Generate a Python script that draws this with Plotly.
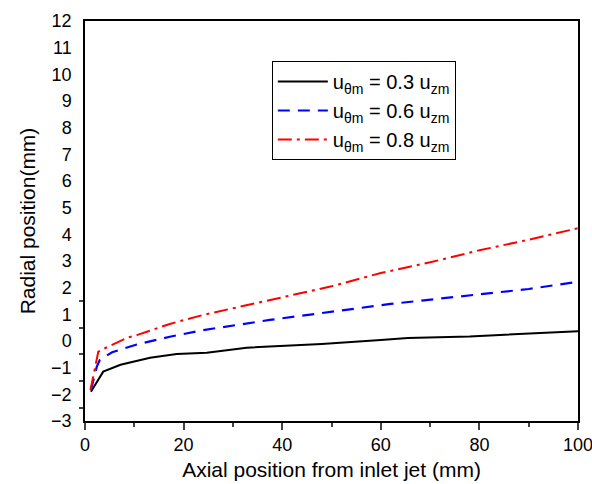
import plotly.graph_objects as go

# Data
x_03 = [1.2, 3.7, 7.2, 9.1, 13.2, 18.6, 24.7, 32.8, 48, 60, 65.5, 78, 100]
y_03 = [-1.90, -1.15, -0.89, -0.80, -0.63, -0.49, -0.44, -0.25, -0.11, 0.04, 0.11, 0.17, 0.37]

x_06 = [1.2, 2.4, 3.0, 5.5, 8.1, 10.5, 17.2, 24, 37.5, 50, 62, 80, 90, 100]
y_06 = [-1.84, -0.96, -0.71, -0.42, -0.27, -0.13, 0.16, 0.41, 0.79, 1.10, 1.39, 1.75, 1.95, 2.22]

x_08 = [1.1, 2.7, 3.7, 6.4, 8.8, 10.5, 17.2, 24, 37.5, 50, 60, 70, 80, 90, 100]
y_08 = [-1.84, -0.40, -0.30, -0.06, 0.14, 0.22, 0.64, 0.98, 1.54, 2.05, 2.55, 2.95, 3.40, 3.80, 4.23]

names = ["u<sub>θm</sub> = 0.3 u<sub>zm</sub>",
         "u<sub>θm</sub> = 0.6 u<sub>zm</sub>",
         "u<sub>θm</sub> = 0.8 u<sub>zm</sub>"]

y_ticks = list(range(-3, 13))
y_minor = [-2.5, -1.5, -0.5, 0.5, 1.5]
x_ticks = [0, 20, 40, 60, 80, 100]

fig = go.Figure()
fig.add_trace(go.Scatter(x=x_03, y=y_03, mode="lines", name=names[0],
                         line=dict(color="black", width=2)))
fig.add_trace(go.Scatter(x=x_06, y=y_06, mode="lines", name=names[1],
                         line=dict(color="blue", width=2.2, dash="12px,8px")))
fig.add_trace(go.Scatter(x=x_08, y=y_08, mode="lines", name=names[2],
                         line=dict(color="red", width=2, dash="14px,5px,3px,5px")))

font = "Liberation Sans, Arial, sans-serif"
fig.update_layout(
    width=592, height=484,
    margin=dict(l=85, r=14, t=21, b=63),
    paper_bgcolor="white", plot_bgcolor="white",
    font=dict(family=font, size=18, color="black"),
    showlegend=True,
    legend=dict(x=0.379, y=0.9, xanchor="left", yanchor="top",
                bordercolor="black", borderwidth=1, bgcolor="white",
                font=dict(size=20), tracegroupgap=0, itemwidth=50),
    xaxis=dict(range=[0, 100], tickvals=x_ticks, ticks="outside", ticklen=7,
               tickwidth=1.5, showgrid=False, zeroline=False,
               showline=True, linecolor="black", linewidth=1.5, mirror=True,
               tickfont=dict(size=18), ticklabeloverflow="allow",
               minor=dict(tickvals=[10, 30, 50, 70, 90], ticks="outside",
                          ticklen=4, tickwidth=1.5, showgrid=False),
               title=dict(text="Axial position from inlet jet (mm)",
                          font=dict(size=21), standoff=8),
               automargin=False),
    yaxis=dict(range=[-3, 12], tickvals=y_ticks, ticks="", showgrid=False,
               zeroline=False, showline=True, linecolor="black", linewidth=1.5,
               mirror=True, ticklabelstandoff=8, tickfont=dict(size=18),
               minor=dict(tickvals=y_minor, ticks="outside", ticklen=4,
                          tickwidth=1.5, showgrid=False),
               title=dict(text="Radial position(mm)", font=dict(size=21),
                          standoff=10),
               automargin=False),
)

fig.write_html("out.html")
